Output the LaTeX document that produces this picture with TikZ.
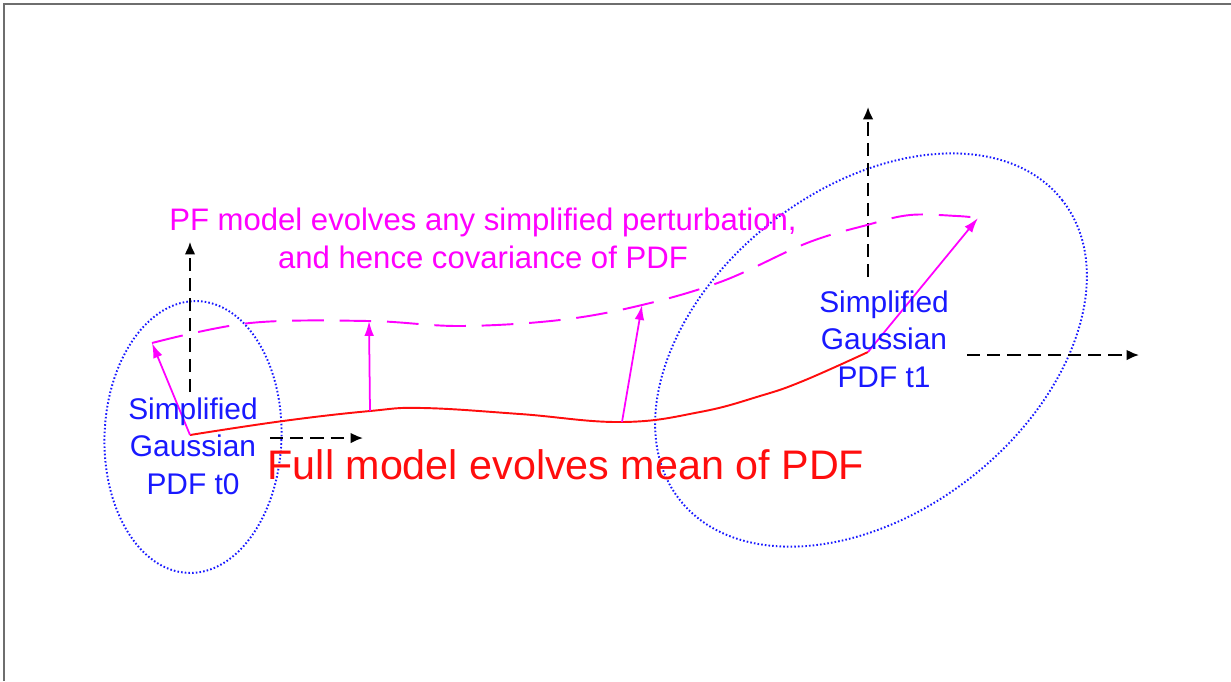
\documentclass[tikz,border=0pt]{standalone}
\usepackage{fontspec}
\setmainfont{Liberation Sans}
\usetikzlibrary{arrows.meta, calc}
\definecolor{pfmag}{rgb}{1, 0, 1}
\definecolor{pdfblue}{rgb}{0.1, 0.1, 1}
\definecolor{meanred}{rgb}{1, 0.05, 0.05}
\definecolor{framegray}{rgb}{0.43, 0.43, 0.43}

\begin{document}
\begin{tikzpicture}[x=0.02cm, y=-0.02cm,
    axisarrow/.style={black, line width=1.1pt, dash pattern=on 7.5pt off 4pt, -{Latex[length=7pt, width=6pt]}},
    pertarrow/.style={pfmag, line width=1pt, -{Latex[length=8.5pt, width=5.5pt]}},
    pdfblob/.style={pdfblue, line width=1.1pt, dash pattern=on 0.9pt off 1.2pt},
    bluetxt/.style={pdfblue, align=center, inner sep=0pt, font=\fontsize{17}{21.3}\selectfont}]

    \useasboundingbox (0,0) rectangle (1231,681);
    \draw[framegray, line width=1.2pt] (4,681) -- (4,4) -- (1231,4);

    % the two PDFs
    \coordinate (c0) at (193,437);
    \coordinate (c1) at (871,350);
    \draw[pdfblob, rotate around={-2:(c0)}] (c0) ellipse [x radius=1.77cm, y radius=2.72cm];
    \draw[pdfblob, rotate around={38:(c1)}] (c1) ellipse [x radius=4.86cm, y radius=3.24cm];

    % axes
    \coordinate (v0b) at (190,392);  \coordinate (v0t) at (190,242);
    \coordinate (h0l) at (270,438);  \coordinate (h0r) at (363,438);
    \coordinate (v1b) at (868,277);  \coordinate (v1t) at (868,107);
    \coordinate (h1l) at (967,355);  \coordinate (h1r) at (1139,355);
    \draw[axisarrow] (v0b) -- (v0t);
    \draw[axisarrow] (h0l) -- (h0r);
    \draw[axisarrow] (v1b) -- (v1t);
    \draw[axisarrow] (h1l) -- (h1r);

    % mean trajectory and perturbed trajectory
    \coordinate (m0) at (190,435);
    \coordinate (m1) at (370,411);
    \coordinate (m2) at (622,422);
    \coordinate (m3) at (868,352);
    \coordinate (p0) at (152,343);
    \coordinate (p1) at (369,321);
    \coordinate (p2) at (642,305);
    \coordinate (p3) at (978,218);

    \draw[meanred, line width=1.1pt] plot[smooth, tension=0.7] coordinates
        {(m0) (283,421) (m1) (423,408) (520,414) (m2) (700,412) (760,396) (803,381) (m3)};
    \draw[pfmag, line width=1.1pt, dash pattern=on 18pt off 9pt] plot[smooth, tension=0.6] coordinates
        {(p0) (250,323) (p1) (460,326) (560,320) (p2) (723,281) (807,243) (867,225) (910,215) (957,216) (p3)};

    \draw[pertarrow] (m0) -- (p0);
    \draw[pertarrow] (m1) -- (p1);
    \draw[pertarrow] (m2) -- (p2);
    \draw[pertarrow] (m3) -- (p3);

    % labels
    \node[bluetxt] (pdf0) at (193,446) {Simplified\\Gaussian\\PDF t0};
    \node[bluetxt] (pdf1) at (884,339) {Simplified\\Gaussian\\PDF t1};
    \node[meanred, anchor=base, inner sep=0pt, font=\fontsize{23.5}{28}\selectfont] (fulltxt) at (566,479)
        {Full model evolves mean of PDF};
    \node[pfmag, align=center, inner sep=0pt, font=\fontsize{17.7}{21.5}\selectfont] (pftxt) at (483,238)
        {PF model evolves any simplified perturbation,\\and hence covariance of PDF};
\end{tikzpicture}
\end{document}
